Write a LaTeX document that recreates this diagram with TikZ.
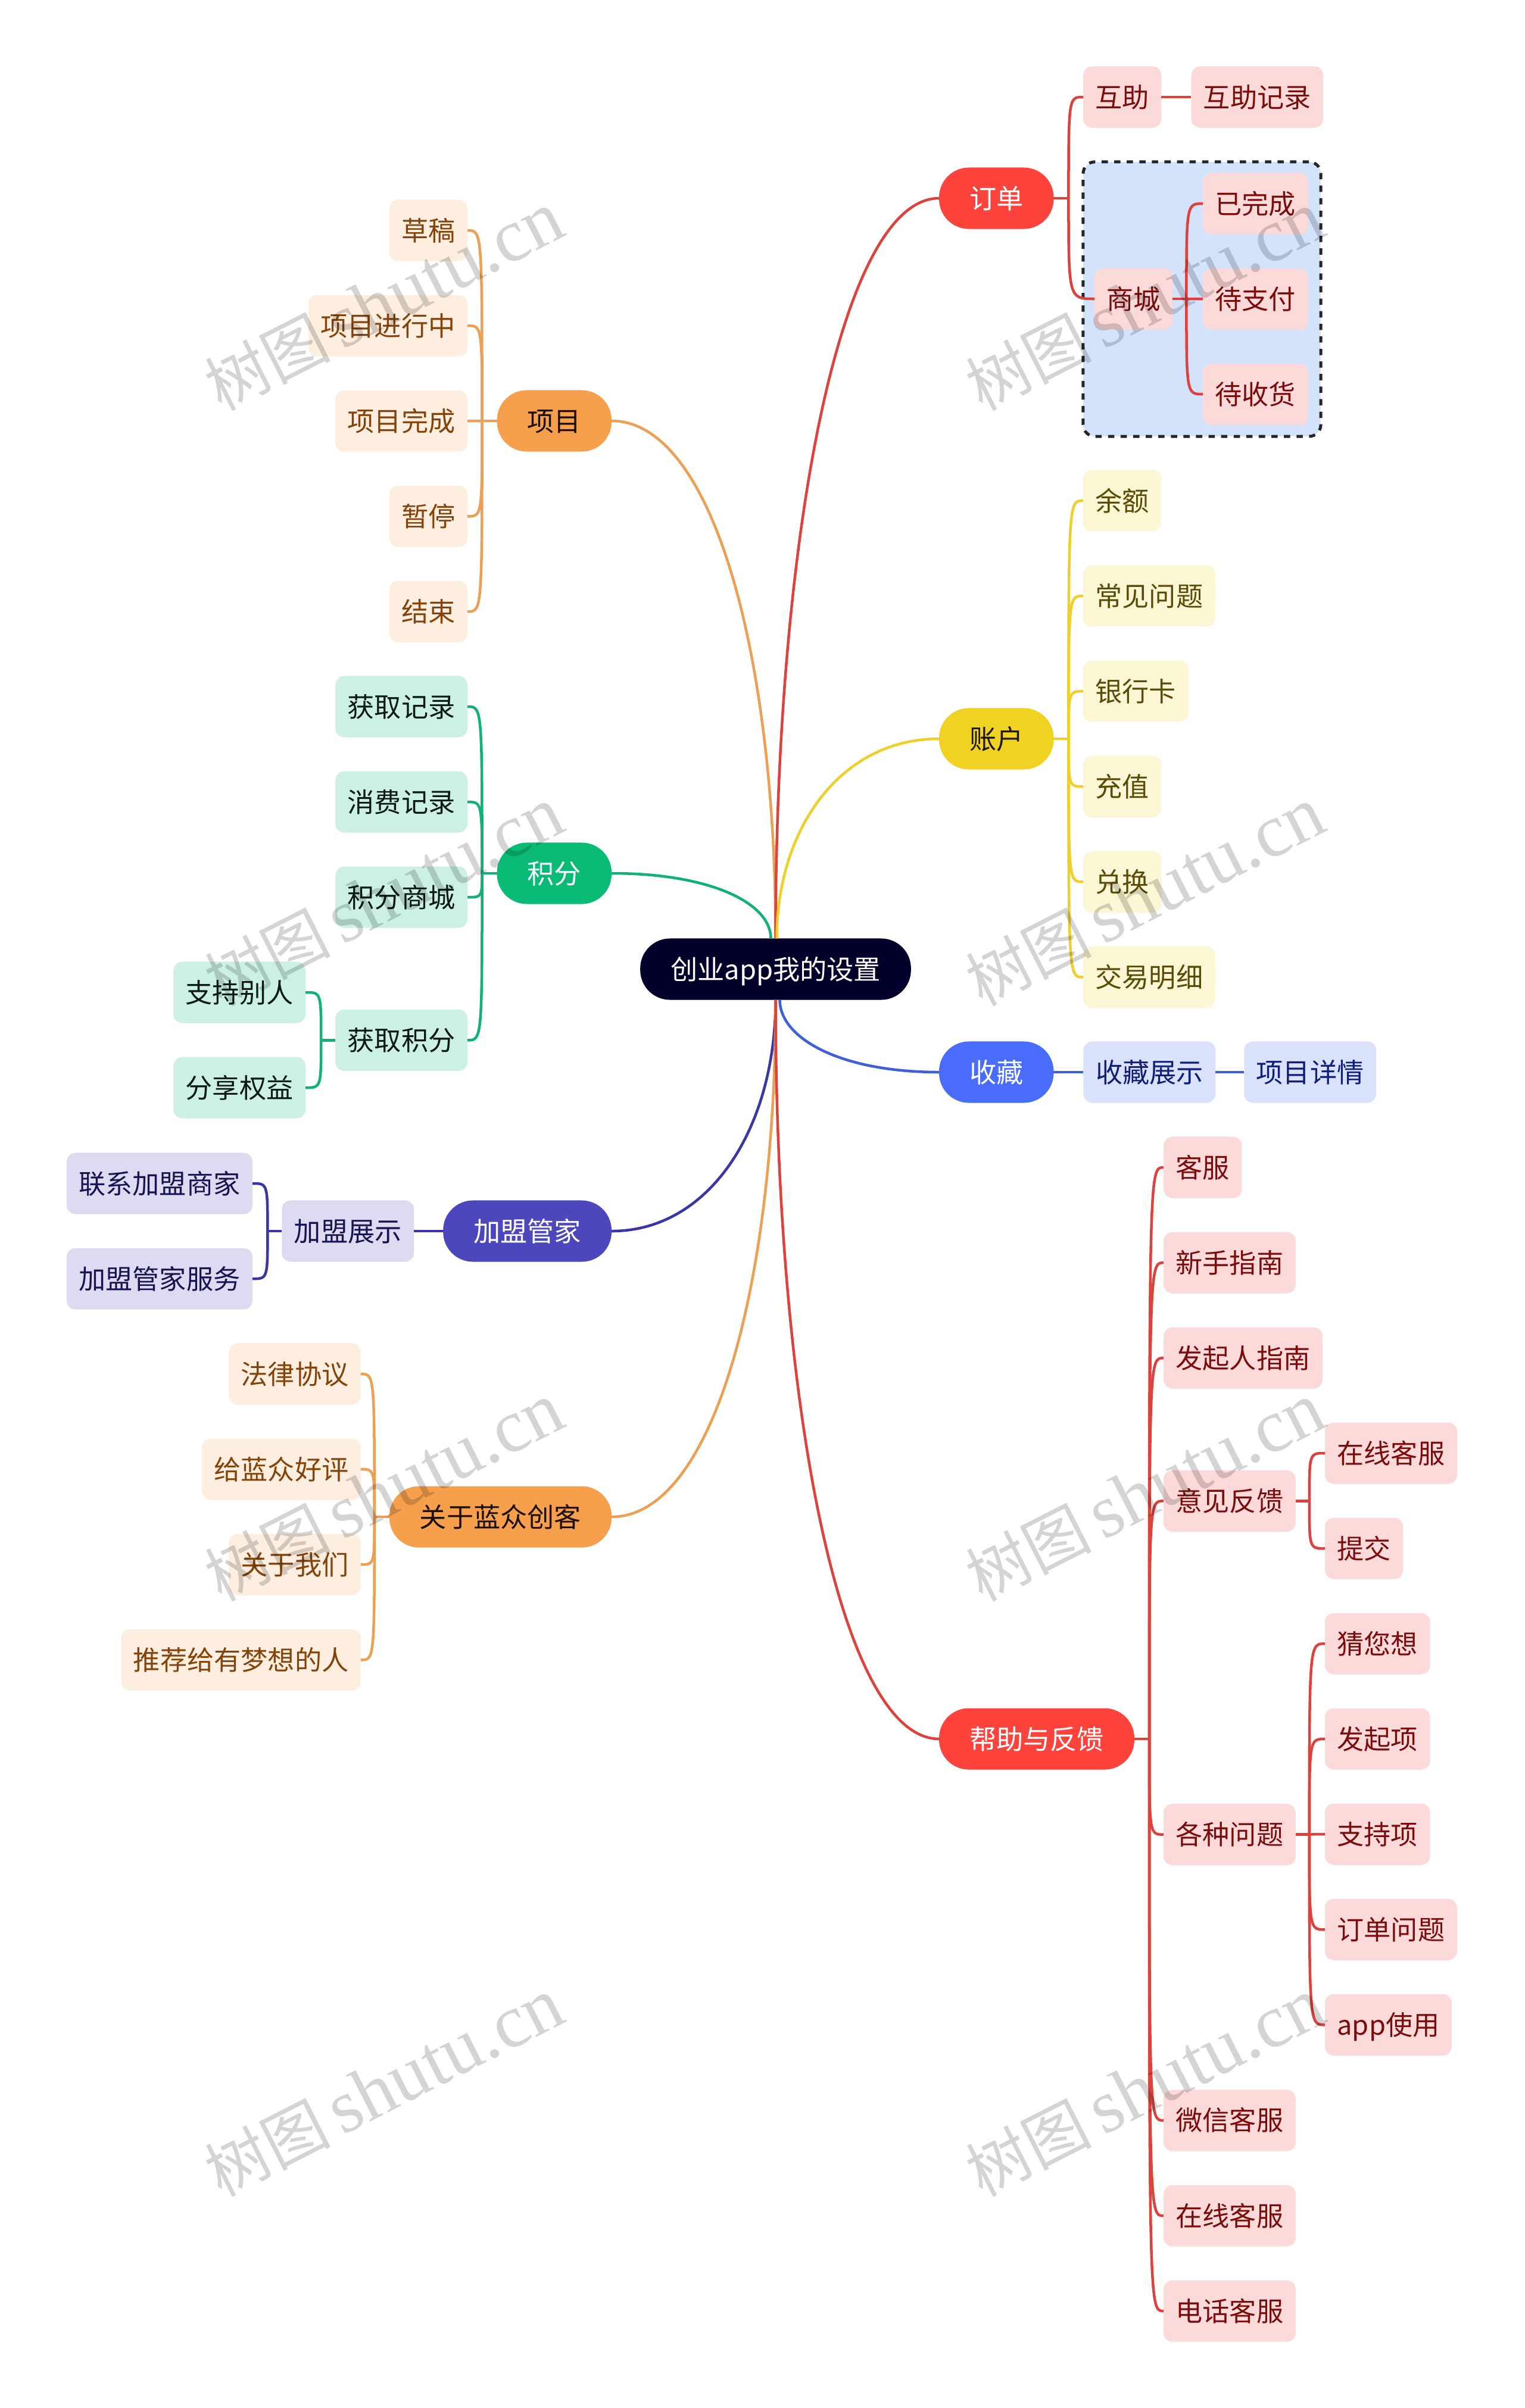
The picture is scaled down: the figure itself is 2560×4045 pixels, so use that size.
\documentclass[tikz,border=0pt]{standalone}
\usepackage{fontspec}
\setmainfont{Noto Sans CJK SC}
\newfontfamily\wmfont{Liberation Serif}
\usetikzlibrary{positioning}
\definecolor{redfill}{HTML}{FD433B}
\definecolor{redline}{HTML}{DE423C}
\definecolor{redbox}{HTML}{FDDADA}
\definecolor{redtext}{HTML}{7A0C0C}
\definecolor{orfill}{HTML}{F6A04D}
\definecolor{orline}{HTML}{EBA056}
\definecolor{orbox}{HTML}{FDEEDF}
\definecolor{ortext}{HTML}{84430A}
\definecolor{grfill}{HTML}{0ABB76}
\definecolor{grline}{HTML}{12B07A}
\definecolor{grbox}{HTML}{CCF1E2}
\definecolor{grtext}{HTML}{0C1A14}
\definecolor{yefill}{HTML}{F0D222}
\definecolor{yeline}{HTML}{EFCF2C}
\definecolor{yebox}{HTML}{FBF6D3}
\definecolor{yetext}{HTML}{5A4C08}
\definecolor{blfill}{HTML}{4A6CFD}
\definecolor{blline}{HTML}{3F60D8}
\definecolor{blbox}{HTML}{DAE1FB}
\definecolor{bltext}{HTML}{101F7A}
\definecolor{pufill}{HTML}{4C47BD}
\definecolor{puline}{HTML}{3B36A8}
\definecolor{pubox}{HTML}{DDDBF2}
\definecolor{putext}{HTML}{171450}
\definecolor{rootfill}{HTML}{02002B}
\definecolor{regionfill}{HTML}{D3E3FC}
\begin{document}
\begin{tikzpicture}[x=0.01cm, y=-0.01cm,
  font=\fontsize{12.85}{16}\selectfont,
  leaf/.style = {rectangle, rounded corners=1.5mm, outer sep=0pt, inner ysep=0pt, inner xsep=2.05mm, minimum height=10.3mm, text height=4mm, text depth=0.6mm},
  pill/.style = {leaf, rounded corners=5mm, inner xsep=5.1mm, text=white},
  redleaf/.style = {leaf, fill=redbox, text=redtext},
  orleaf/.style = {leaf, fill=orbox, text=ortext},
  grleaf/.style = {leaf, fill=grbox, text=grtext},
  yeleaf/.style = {leaf, fill=yebox, text=yetext},
  blleaf/.style = {leaf, fill=blbox, text=bltext},
  puleaf/.style = {leaf, fill=pubox, text=putext},
  under/.style = {below=5.7mm of #1.south east, anchor=north east},
  underr/.style = {below=5.7mm of #1.south west, anchor=north west},
  redlink/.style = {draw=redline, line width=0.45mm},
  orlink/.style = {draw=orline, line width=0.45mm},
  grlink/.style = {draw=grline, line width=0.45mm},
  yelink/.style = {draw=yeline, line width=0.45mm},
  bllink/.style = {draw=blline, line width=0.45mm},
  pulink/.style = {draw=puline, line width=0.45mm},
  watermark/.style = {text=black, opacity=0.17, rotate=27, inner sep=0pt, font=\fontsize{30}{40}\selectfont}]
\path[fill=white, use as bounding box] (0,0) rectangle (2560,4045);
\node[draw=black!85, fill=regionfill, line width=0.5mm, dashed, rectangle, rounded corners=2mm, minimum width=39.9cm/10, minimum height=46.1cm/10] (region) at (2018.5,502.5) {};
% root and main topics
\node[pill, fill=rootfill] (root) at (1302.5,1628) {创业app我的设置};
\node[pill, fill=orfill, text=black!80!ortext, anchor=east] (xiangmu) at (1027,707) {项目};
\node[pill, fill=grfill, anchor=east] (jifen) at (1027,1467) {积分};
\node[pill, fill=pufill, anchor=east] (jiameng) at (1027,2068) {加盟管家};
\node[pill, fill=orfill, text=black!80!ortext, anchor=east] (guanyu) at (1027,2548) {关于蓝众创客};
\node[pill, fill=redfill, anchor=west] (dingdan) at (1577,333) {订单};
\node[pill, fill=yefill, text=black!70!yetext, anchor=west] (zhanghu) at (1577,1241) {账户};
\node[pill, fill=blfill, anchor=west] (shoucang) at (1577,1801) {收藏};
\node[pill, fill=redfill, anchor=west] (bangzhu) at (1577,2921) {帮助与反馈};
% left side
\node[orleaf, anchor=east] (caogao) at (785,387) {草稿};
\node[orleaf, under=caogao] (jinxing) {项目进行中};
\node[orleaf, under=jinxing] (wancheng) {项目完成};
\node[orleaf, under=wancheng] (zanting) {暂停};
\node[orleaf, under=zanting] (jieshu) {结束};
\node[grleaf, anchor=east] (jilu) at (785,1187) {获取记录};
\node[grleaf, under=jilu] (xiaofei) {消费记录};
\node[grleaf, under=xiaofei] (jfsc) {积分商城};
\node[grleaf, below=13.7mm of jfsc.south east, anchor=north east] (huoqu) {获取积分};
\node[grleaf, anchor=east] (zhichi) at (513,1667) {支持别人};
\node[grleaf, under=zhichi] (fenxiang) {分享权益};
\node[puleaf, left=4.9mm of jiameng] (zhanshi) {加盟展示};
\node[puleaf, anchor=east] (lianxi) at (424,1988) {联系加盟商家};
\node[puleaf, under=lianxi] (fuwu) {加盟管家服务};
\node[orleaf, anchor=east] (falv) at (606,2308) {法律协议};
\node[orleaf, under=falv] (haoping) {给蓝众好评};
\node[orleaf, under=haoping] (women) {关于我们};
\node[orleaf, under=women] (tuijian) {推荐给有梦想的人};
% right side
\node[redleaf, anchor=west] (huzhu) at (1819,163) {互助};
\node[redleaf, right=5mm of huzhu] (hzjl) {互助记录};
\node[redleaf, anchor=west] (shangcheng) at (1838,502) {商城};
\node[redleaf, anchor=west] (yiwancheng) at (2020,342) {已完成};
\node[redleaf, underr=yiwancheng] (daizhifu) {待支付};
\node[redleaf, underr=daizhifu] (daishouhuo) {待收货};
\node[yeleaf, anchor=west] (yue) at (1819,841) {余额};
\node[yeleaf, underr=yue] (changjian) {常见问题};
\node[yeleaf, underr=changjian] (yinhang) {银行卡};
\node[yeleaf, underr=yinhang] (chongzhi) {充值};
\node[yeleaf, underr=chongzhi] (duihuan) {兑换};
\node[yeleaf, underr=duihuan] (jiaoyi) {交易明细};
\node[blleaf, right=5mm of shoucang] (sczs) {收藏展示};
\node[blleaf, right=4.8mm of sczs] (xiangqing) {项目详情};
\node[redleaf, anchor=west] (kefu) at (1954,1961) {客服};
\node[redleaf, underr=kefu] (xinshou) {新手指南};
\node[redleaf, underr=xinshou] (faqiren) {发起人指南};
\node[redleaf, below=13.7mm of faqiren.south west, anchor=north west] (yijian) {意见反馈};
\node[redleaf, below=45.7mm of yijian.south west, anchor=north west] (gezhong) {各种问题};
\node[redleaf, below=37.7mm of gezhong.south west, anchor=north west] (weixin) {微信客服};
\node[redleaf, underr=weixin] (zaixian) {在线客服};
\node[redleaf, underr=zaixian] (dianhua) {电话客服};
\node[redleaf, anchor=west] (zxkf) at (2225,2441) {在线客服};
\node[redleaf, underr=zxkf] (tijiao) {提交};
\node[redleaf, anchor=west] (cai) at (2225,2761) {猜您想};
\node[redleaf, underr=cai] (faqi) {发起项};
\node[redleaf, underr=faqi] (zhichixiang) {支持项};
\node[redleaf, underr=zhichixiang] (ddwt) {订单问题};
\node[redleaf, underr=ddwt] (appuse) {app使用};
% main branches
\draw[orlink] (xiangmu.east) .. controls +(170,0) and +(0,-475) .. (root.north);
\draw[grlink] (jifen.east) .. controls +(165,0) and +(0,-60) .. ([xshift=-0.8mm]root.north);
\draw[pulink] (jiameng.east) .. controls +(165,0) and +(0,215) .. (root.south);
\draw[orlink] (guanyu.east) .. controls +(170,0) and +(0,480) .. (root.south);
\draw[redlink] (dingdan.west) .. controls +(-165,0) and +(0,-680) .. (root.north);
\draw[yelink] (zhanghu.west) .. controls +(-165,0) and +(0,-185) .. ([xshift=0.2mm]root.north);
\draw[bllink] (shoucang.west) .. controls +(-165,0) and +(0,65) .. ([xshift=0.7mm]root.south);
\draw[redlink] (bangzhu.west) .. controls +(-165,0) and +(0,685) .. (root.south);
% joints
\coordinate[left=2.5mm of xiangmu] (xmj);
\coordinate[left=2.5mm of jifen] (jfj);
\coordinate[left=2.4mm of huoqu] (hqj);
\coordinate[left=2.4mm of zhanshi] (zsj);
\coordinate[left=2.5mm of guanyu] (gyj);
\coordinate[right=2.5mm of dingdan] (ddj);
\coordinate[right=2.3mm of shangcheng] (scj);
\coordinate[right=2.5mm of zhanghu] (zhj);
\coordinate[right=2.5mm of bangzhu] (bzj);
\coordinate[right=2.3mm of yijian] (yjj);
\coordinate[right=2.3mm of gezhong] (gzj);
% short stems
\draw[orlink] (xiangmu.west) -- (xmj);
\draw[grlink] (jifen.west) -- (jfj);
\draw[grlink] (huoqu.west) -- (hqj);
\draw[pulink] (jiameng.west) -- (zhanshi.east);
\draw[pulink] (zhanshi.west) -- (zsj);
\draw[orlink] (guanyu.west) -- (gyj);
\draw[redlink] (dingdan.east) -- (ddj);
\draw[redlink] (huzhu.east) -- (hzjl.west);
\draw[redlink] (shangcheng.east) -- (scj);
\draw[yelink] (zhanghu.east) -- (zhj);
\draw[bllink] (shoucang.east) -- (sczs.west);
\draw[bllink] (sczs.east) -- (xiangqing.west);
\draw[redlink] (bangzhu.east) -- (bzj);
\draw[redlink] (yijian.east) -- (yjj);
\draw[redlink] (gezhong.east) -- (gzj);
% children, left
\foreach \kid in {caogao,jinxing,wancheng,zanting,jieshu}
  \draw[orlink] (xmj) .. controls (xmj |- \kid.east) .. (\kid.east);
\foreach \kid in {jilu,xiaofei,jfsc,huoqu}
  \draw[grlink] (jfj) .. controls (jfj |- \kid.east) .. (\kid.east);
\foreach \kid in {zhichi,fenxiang}
  \draw[grlink] (hqj) .. controls (hqj |- \kid.east) .. (\kid.east);
\foreach \kid in {lianxi,fuwu}
  \draw[pulink] (zsj) .. controls (zsj |- \kid.east) .. (\kid.east);
\foreach \kid in {falv,haoping,women,tuijian}
  \draw[orlink] (gyj) .. controls (gyj |- \kid.east) .. (\kid.east);
% children, right
\foreach \kid in {huzhu,shangcheng}
  \draw[redlink] (ddj) .. controls (ddj |- \kid.west) .. (\kid.west);
\foreach \kid in {yiwancheng,daizhifu,daishouhuo}
  \draw[redlink] (scj) .. controls (scj |- \kid.west) .. (\kid.west);
\foreach \kid in {yue,changjian,yinhang,chongzhi,duihuan,jiaoyi}
  \draw[yelink] (zhj) .. controls (zhj |- \kid.west) .. (\kid.west);
\foreach \kid in {kefu,xinshou,faqiren,yijian,gezhong,weixin,zaixian,dianhua}
  \draw[redlink] (bzj) .. controls (bzj |- \kid.west) .. (\kid.west);
\foreach \kid in {zxkf,tijiao}
  \draw[redlink] (yjj) .. controls (yjj |- \kid.west) .. (\kid.west);
\foreach \kid in {cai,faqi,zhichixiang,ddwt,appuse}
  \draw[redlink] (gzj) .. controls (gzj |- \kid.west) .. (\kid.west);
% watermark
\foreach \wx in {645,1923}
  \foreach \wy in {507,1507,2507,3507}
    \node[watermark] (wm\wx\wy) at (\wx,\wy) {树图\,{\wmfont\fontsize{36}{40}\selectfont shutu.cn}};
\end{tikzpicture}
\end{document}
